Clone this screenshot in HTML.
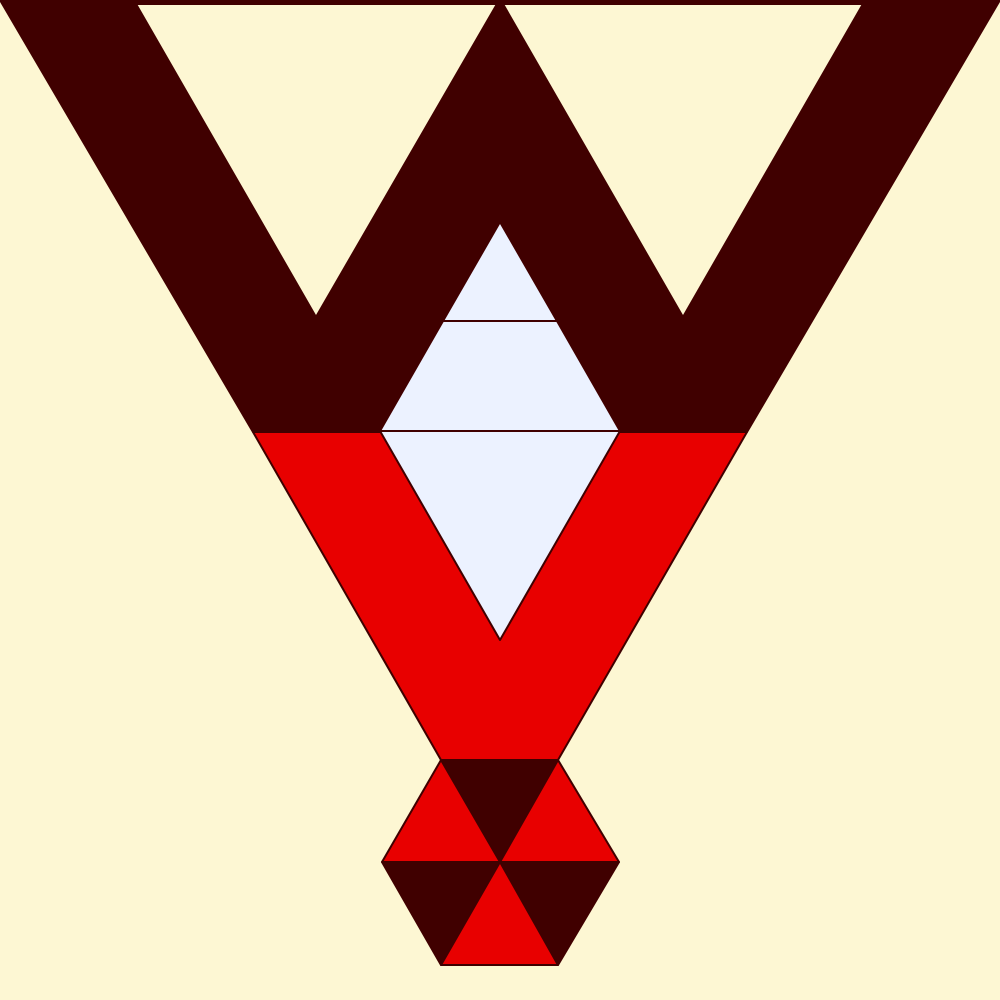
<!DOCTYPE html>
<html><head><meta charset="utf-8"><style>html,body{margin:0;padding:0;background:#fdf7d3}svg{display:block}</style></head>
<body>
<svg width="1000" height="1000" viewBox="0 0 1000 1000">
<rect x="0" y="0" width="1000" height="1000" fill="#fdf7d3"/>
<g stroke="#400000" stroke-width="2" stroke-linejoin="round">
<polygon fill="#400000" points="0,0 1000,0 747,432 253,432"/>
<polygon fill="#fdf7d3" points="136,4 497,4 316,317"/>
<polygon fill="#fdf7d3" points="503,4 863,4 683,317"/>
<polygon fill="#e80000" points="253,432 747,432 558,760 441,760"/>
<polygon fill="#ecf2ff" points="500,222 557,321 443,321"/>
<polygon fill="#ecf2ff" points="443,321 557,321 620,431 380,431"/>
<polygon fill="#ecf2ff" points="380,431 620,431 500,640"/>
<polygon fill="#400000" points="441,760 558,760 500,862"/>
<polygon fill="#e80000" points="441,760 500,862 382,862"/>
<polygon fill="#e80000" points="558,760 619,862 500,862"/>
<polygon fill="#400000" points="382,862 500,862 441,965"/>
<polygon fill="#400000" points="500,862 619,862 558,965"/>
<polygon fill="#e80000" points="500,862 558,965 441,965"/>
</g>
</svg>
</body></html>
